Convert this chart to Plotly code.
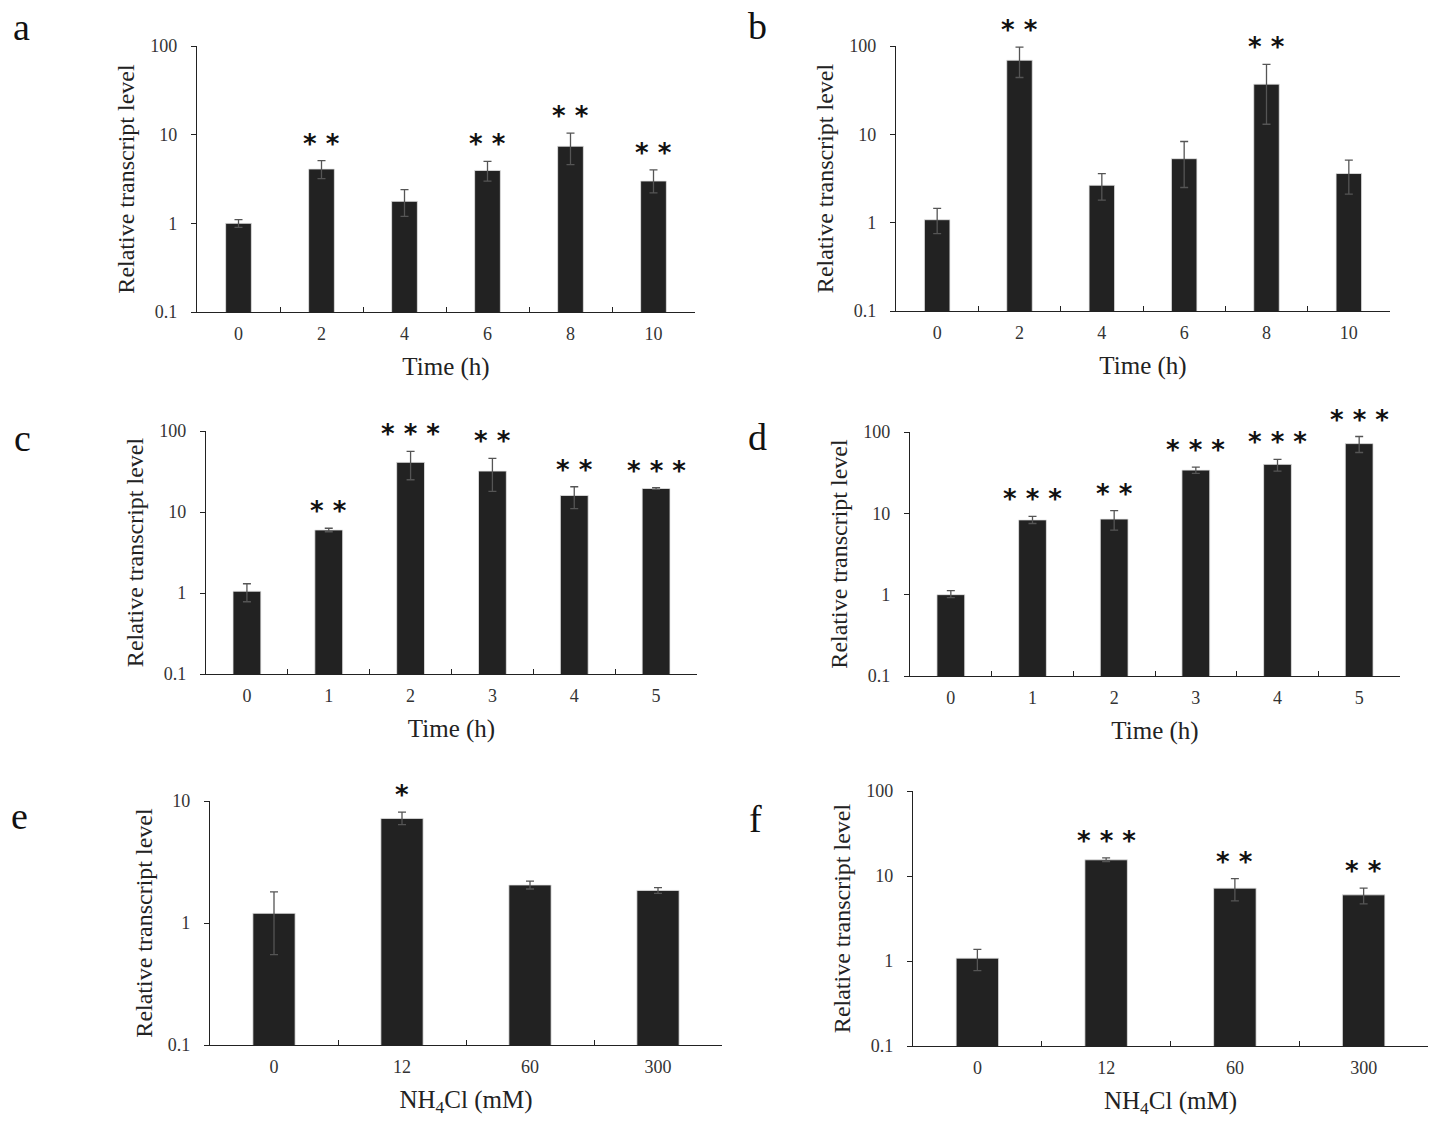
import numpy as np
import plotly.graph_objects as go

# panel a - Time (h)
a_cats = ["0", "2", "4", "6", "8", "10"]
a_vals = [1.0, 4.1, 1.77, 3.95, 7.4, 3.0]
a_hi = [1.1, 5.1, 2.4, 5.0, 10.4, 4.0]
a_lo = [0.9, 3.2, 1.2, 3.0, 4.6, 2.2]
a_stars = ["", "**", "", "**", "**", "**"]

# panel b - Time (h)
b_cats = ["0", "2", "4", "6", "8", "10"]
b_vals = [1.08, 69, 2.65, 5.3, 37, 3.6]
b_hi = [1.45, 97, 3.6, 8.3, 62, 5.1]
b_lo = [0.75, 44, 1.8, 2.5, 13, 2.1]
b_stars = ["", "**", "", "", "**", ""]

# panel c - Time (h)
c_cats = ["0", "1", "2", "3", "4", "5"]
c_vals = [1.05, 6.0, 41, 32, 16, 19.5]
c_hi = [1.3, 6.3, 56, 46, 20.5, 20]
c_lo = [0.78, 5.7, 25, 18, 11, 19]
c_stars = ["", "**", "***", "**", "**", "***"]

# panel d - Time (h)
d_cats = ["0", "1", "2", "3", "4", "5"]
d_vals = [1.0, 8.3, 8.5, 34, 40, 72]
d_hi = [1.12, 9.2, 10.8, 37, 46, 88]
d_lo = [0.92, 7.5, 6.2, 31, 33, 56]
d_stars = ["", "***", "**", "***", "***", "***"]

# panel e - NH4Cl (mM)
e_cats = ["0", "12", "60", "300"]
e_vals = [1.2, 7.2, 2.05, 1.85]
e_hi = [1.8, 8.1, 2.2, 1.95]
e_lo = [0.55, 6.4, 1.9, 1.75]
e_stars = ["", "*", "", ""]

# panel f - NH4Cl (mM)
f_cats = ["0", "12", "60", "300"]
f_vals = [1.08, 15.5, 7.2, 6.0]
f_hi = [1.37, 16.3, 9.3, 7.2]
f_lo = [0.77, 14.8, 5.1, 4.7]
f_stars = ["", "***", "**", "**"]

W, H = 1440, 1122
SERIF = "Liberation Serif, Times New Roman, serif"

# (letter, cats, vals, hi, lo, stars, xtitle, ymax_log, px box [x0, x1, ytop, ybottom], bar width, letter centre)
panels = [
    ("a", a_cats, a_vals, a_hi, a_lo, a_stars, "Time (h)", 2, [197, 695, 46, 312], 0.31, (21, 27)),
    ("b", b_cats, b_vals, b_hi, b_lo, b_stars, "Time (h)", 2, [896, 1390, 46, 311], 0.31, (757, 26)),
    ("c", c_cats, c_vals, c_hi, c_lo, c_stars, "Time (h)", 2, [206, 697, 431, 674], 0.34, (22, 438)),
    ("d", d_cats, d_vals, d_hi, d_lo, d_stars, "Time (h)", 2, [910, 1400, 432, 676], 0.34, (757, 437)),
    ("e", e_cats, e_vals, e_hi, e_lo, e_stars, "NH<sub>4</sub>Cl (mM)", 1, [210, 722, 801, 1045], 0.33, (19, 816)),
    ("f", f_cats, f_vals, f_hi, f_lo, f_stars, "NH<sub>4</sub>Cl (mM)", 2, [913, 1428, 791, 1046], 0.33, (755, 819)),
]


def px(x):
    return x / W


def py(y):
    return 1 - y / H


fig = go.Figure()
annotations = []

for i, (letter, cats, vals, hi, lo, stars, xtitle, ymax, box, bw, lpos) in enumerate(panels):
    n = "" if i == 0 else str(i + 1)
    xa, ya = "x" + n, "y" + n
    vals_a = np.array(vals)
    fig.add_trace(go.Bar(
        x=cats, y=vals, xaxis=xa, yaxis=ya, width=bw,
        marker=dict(color="#222222", line=dict(color="#e6e6e6", width=0.8)),
        error_y=dict(type="data", symmetric=False,
                     array=list(np.array(hi) - vals_a),
                     arrayminus=list(vals_a - np.array(lo)),
                     color="#555555", thickness=1.3, width=4),
        showlegend=False,
    ))

    x0, x1, yt, yb = box
    axis_common = dict(showline=True, linecolor="#222222", linewidth=1.3,
                       showgrid=False, zeroline=False, automargin=False,
                       tickfont=dict(family=SERIF, size=18, color="#333333"))
    fig.update_layout({
        "xaxis" + n: dict(domain=[px(x0), px(x1)], anchor=ya, type="category",
                          ticks="inside", tickson="boundaries", ticklen=5,
                          tickcolor="#222222", range=[-0.5, len(cats) - 0.5],
                          ticklabelstandoff=5,
                          title=dict(text=xtitle, font=dict(family=SERIF, size=25, color="#222222"),
                                     standoff=14),
                          **axis_common),
        "yaxis" + n: dict(domain=[py(yb), py(yt)], anchor=xa, type="log",
                          range=[-1, ymax], tickvals=[10 ** k for k in range(-1, ymax + 1)],
                          ticktext=[("0.1" if k == -1 else str(10 ** k)) for k in range(-1, ymax + 1)],
                          ticks="outside", ticklen=5, tickcolor="#222222",
                          ticklabelstandoff=10,
                          title=dict(text="Relative transcript level",
                                     font=dict(family=SERIF, size=24, color="#222222"),
                                     standoff=8),
                          **axis_common),
    })

    for j, (s, h) in enumerate(zip(stars, hi)):
        if s:
            annotations.append(dict(
                x=j, y=np.log10(h), xref=xa, yref=ya, text=" ".join(s),
                showarrow=False, yanchor="bottom", yshift=0,
                font=dict(family="DejaVu Sans", size=26, color="#111111", weight="bold"),
            ))

    annotations.append(dict(
        x=px(lpos[0]), y=py(lpos[1]), xref="paper", yref="paper",
        text=letter, showarrow=False, xanchor="center", yanchor="middle",
        font=dict(family=SERIF, size=38, color="#111111"),
    ))

fig.update_layout(
    width=W, height=H,
    margin=dict(l=0, r=0, t=0, b=0),
    plot_bgcolor="white", paper_bgcolor="white",
    annotations=annotations,
)

# drop the browser's default 8px body margin so the figure sits at the page corner
fig.write_html("out.html", config={"displayModeBar": False},
               post_script="document.body.style.margin = '0';")
